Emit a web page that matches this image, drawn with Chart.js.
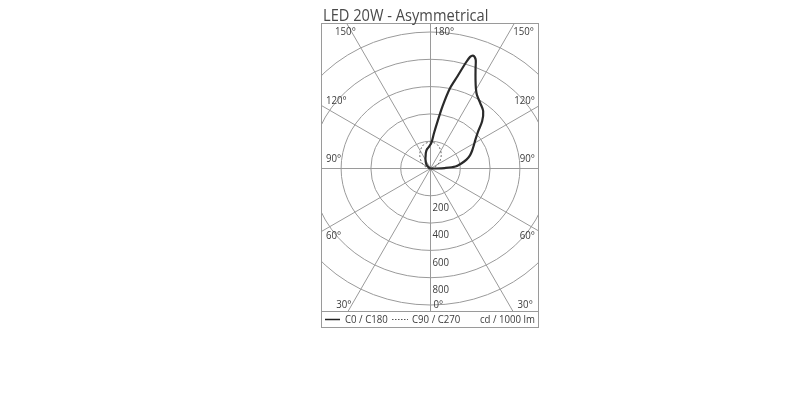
<!DOCTYPE html>
<html><head><meta charset="utf-8">
<script src="https://cdn.jsdelivr.net/npm/chart.js@4"></script>
<style>html,body{margin:0;padding:0;background:#fff}canvas{display:block}</style>
</head><body>
<canvas id="c" width="800" height="400"></canvas>
<script>
const chartTitle = 'LED 20W - Asymmetrical';
const ringValues = [200, 400, 600, 800, 1000];
const ringLabels = ['200', '400', '600', '800'];
const spokeAngles = [0, 30, 60, 90, 120, 150, 180];
const angleLabels = ['0°', '30°', '60°', '90°', '120°', '150°', '180°'];
const legendLabels = ['C0 / C180', 'C90 / C270'];
const unitLabel = 'cd / 1000 lm';

// C0 half-plane (right side), gamma in degrees (0 = down, 180 = up), cd/1000 lm
const gammaC0 = [85, 90, 92, 95, 100, 105, 110, 115, 120, 125, 130, 135, 140, 145, 150, 152.5, 155, 157.5, 159, 160, 161, 162, 163, 165, 167.5, 170, 172.5, 175, 177.5, 180];
const intensityC0 = [0, 35, 95, 168, 210, 250, 282, 308, 335, 368, 415, 490, 550, 583, 623, 660, 715, 790, 848, 868, 875, 860, 810, 700, 600, 460, 335, 255, 195, 176];
// C180 half-plane (left side)
const gammaC180 = [90, 110, 120, 130, 135, 140, 145, 150, 155, 160, 165, 170, 175, 177.5, 180];
const intensityC180 = [0, 5, 12, 28, 36, 45, 55, 66, 80, 96, 120, 142, 155, 165, 176];
// C90 / C270 planes
const gammaC90 = [90, 105, 120, 135, 150, 165, 180];
const intensityC90 = [5, 25, 55, 95, 140, 180, 198];
const gammaC270 = [90, 105, 120, 135, 150, 165, 180];
const intensityC270 = [5, 25, 55, 95, 140, 180, 198];

function toXY(g, I, side) {
  const r = g * Math.PI / 180;
  return { x: side * I * Math.sin(r), y: -I * Math.cos(r) };
}
const solidPts = gammaC0.map((g, i) => toXY(g, intensityC0[i], 1))
  .concat(gammaC180.map((g, i) => toXY(g, intensityC180[i], -1)).reverse());
const dashedPts = gammaC90.map((g, i) => toXY(g, intensityC90[i], 1))
  .concat(gammaC270.map((g, i) => toXY(g, intensityC270[i], -1)).reverse());

const PXX = 0.149;  // horizontal pixels per cd
const PXY = 0.1365; // vertical pixels per cd
const TITLE_FONT = '16px "Open Sans", sans-serif';
const LABEL_FONT = '11.5px "Open Sans", sans-serif';
const TITLE_SQUEEZE = 0.915;
const LABEL_SQUEEZE = 0.84;

function squeezedText(ctx, txt, x, y, k) {
  const w = ctx.measureText(txt).width;
  ctx.fillText(txt, x, y, w * k);
}

const gridPlugin = {
  id: 'polarGrid',
  beforeDatasetsDraw(chart) {
    const { ctx, chartArea: a, scales: { x, y } } = chart;
    const cx = x.getPixelForValue(0), cy = y.getPixelForValue(0);
    ctx.save();
    ctx.beginPath();
    ctx.rect(a.left, a.top, a.right - a.left, a.bottom - a.top);
    ctx.clip();
    ctx.strokeStyle = '#9a9a9a';
    ctx.lineWidth = 1;
    ringValues.forEach(v => {
      const rx = x.getPixelForValue(v) - cx;
      const ry = cy - y.getPixelForValue(v);
      ctx.beginPath();
      ctx.ellipse(cx, cy, rx, ry, 0, 0, Math.PI * 2);
      ctx.stroke();
    });
    spokeAngles.forEach(g => {
      const r = g * Math.PI / 180;
      [1, -1].forEach(side => {
        ctx.beginPath();
        ctx.moveTo(cx, cy);
        ctx.lineTo(cx + side * Math.sin(r) * 1000, cy + Math.cos(r) * 1000);
        ctx.stroke();
      });
    });
    ctx.restore();
  },
  afterDraw(chart) {
    const { ctx, chartArea: a, scales: { x, y } } = chart;
    const cx = x.getPixelForValue(0), cy = y.getPixelForValue(0);
    ctx.save();
    // frame
    ctx.strokeStyle = '#9a9a9a';
    ctx.lineWidth = 1;
    ctx.strokeRect(a.left - 0.5, a.top - 0.5, a.right - a.left + 1, a.bottom - a.top + 17);
    ctx.beginPath();
    ctx.moveTo(a.left, a.bottom + 0.5);
    ctx.lineTo(a.right, a.bottom + 0.5);
    ctx.stroke();
    // title
    ctx.fillStyle = '#4a4a4a';
    ctx.font = TITLE_FONT;
    ctx.textAlign = 'left';
    ctx.textBaseline = 'alphabetic';
    squeezedText(ctx, chartTitle, a.left + 1, 20.5, TITLE_SQUEEZE);
    // angle labels
    ctx.font = LABEL_FONT;
    ctx.fillStyle = '#3c3c3c';
    ctx.textBaseline = 'middle';
    spokeAngles.forEach((g, i) => {
      const txt = angleLabels[i];
      if (g === 0 || g === 180) {
        ctx.textAlign = 'left';
        squeezedText(ctx, txt, cx + 3, g === 180 ? a.top + 8 : a.bottom - 6, LABEL_SQUEEZE);
        return;
      }
      const r = g * Math.PI / 180;
      const dx = Math.sin(r), dy = Math.cos(r);
      let t = (a.right - cx) / dx;
      if (dy > 1e-9) t = Math.min(t, (a.bottom - cy) / dy);
      if (dy < -1e-9) t = Math.min(t, (a.top - cy) / dy);
      const px = dx * t, py = cy + dy * t;
      let ty = Math.min(Math.max(py, a.top + 8), a.bottom - 6);
      if (g === 120) ty = py - 6;
      if (g === 90) ty = py - 10;
      if (g === 60) ty = py + 5;
      ctx.textAlign = 'left';
      squeezedText(ctx, txt, Math.max(cx - px - 12, a.left + 4), ty, LABEL_SQUEEZE);
      ctx.textAlign = 'right';
      squeezedText(ctx, txt, Math.min(cx + px + 20, a.right - 3), ty, LABEL_SQUEEZE);
    });
    // ring labels
    ctx.textAlign = 'left';
    ringLabels.forEach((t, i) => {
      const py = y.getPixelForValue(-ringValues[i]);
      squeezedText(ctx, t, cx + 2, py + 12, LABEL_SQUEEZE);
    });
    // legend
    const ly = a.bottom + 8.5;
    ctx.strokeStyle = '#222';
    ctx.lineWidth = 1.5;
    ctx.beginPath(); ctx.moveTo(a.left + 3, ly); ctx.lineTo(a.left + 18, ly); ctx.stroke();
    ctx.strokeStyle = '#555';
    ctx.lineWidth = 1;
    ctx.setLineDash([1.5, 1.5]);
    ctx.beginPath(); ctx.moveTo(a.left + 70, ly); ctx.lineTo(a.left + 86, ly); ctx.stroke();
    ctx.setLineDash([]);
    ctx.fillStyle = '#3c3c3c';
    squeezedText(ctx, legendLabels[0], a.left + 23, ly, LABEL_SQUEEZE);
    squeezedText(ctx, legendLabels[1], a.left + 90, ly, LABEL_SQUEEZE);
    ctx.textAlign = 'right';
    squeezedText(ctx, unitLabel, a.right - 3, ly, LABEL_SQUEEZE);
    ctx.restore();
  }
};

new Chart(document.getElementById('c'), {
  type: 'scatter',
  data: {
    datasets: [
      { label: legendLabels[0], data: solidPts, showLine: true, borderColor: '#2a2a2a', borderWidth: 2.2, pointRadius: 0, tension: 0.3, fill: false },
      { label: legendLabels[1], data: dashedPts, showLine: true, borderColor: '#666', borderWidth: 1, borderDash: [2, 2], pointRadius: 0, tension: 0.4, fill: false }
    ]
  },
  options: {
    responsive: false,
    animation: false,
    layout: { padding: { left: 322, right: 262, top: 24, bottom: 89 } },
    scales: {
      x: { type: 'linear', min: -108.5 / PXX, max: 107.5 / PXX, display: false },
      y: { type: 'linear', min: -142.5 / PXY, max: 144.5 / PXY, display: false }
    },
    plugins: { legend: { display: false }, tooltip: { enabled: false } }
  },
  plugins: [gridPlugin]
});
</script>
</body></html>
